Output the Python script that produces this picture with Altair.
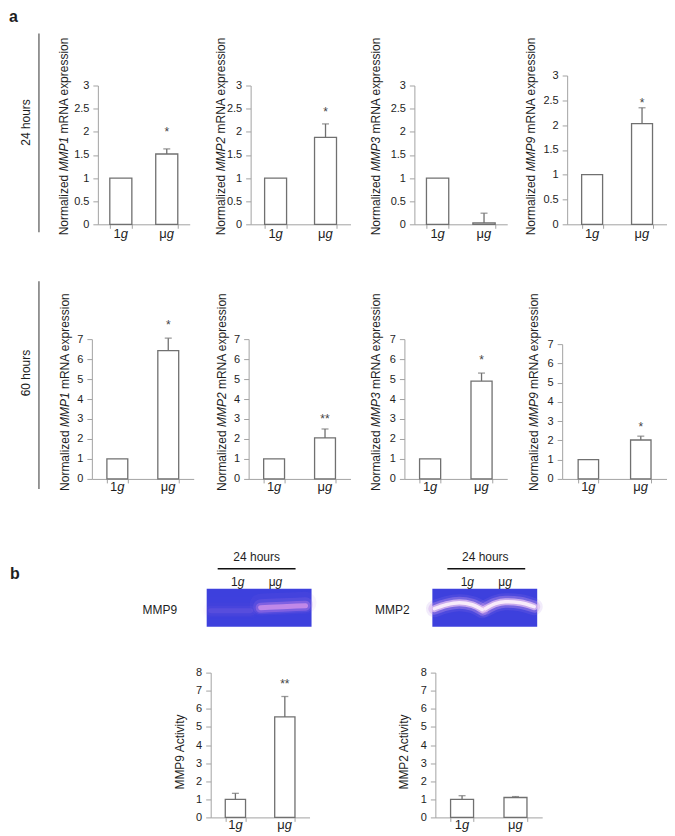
import altair as alt
import pandas as pd

FONT = "Liberation Sans"
TXT = "#1e1e1e"
AX = "#a3a3a3"
BARC = "#707070"
GEL_BLUE = "#3d40dd"

# ---------------- data ----------------
groups = ["1g", "μg"]
group_main = ["1", "μ"]
group_ital = ["g", "g"]

genes = ["MMP1", "MMP2", "MMP3", "MMP9"]

h24_mean = [[1, 1.52], [1, 1.88], [1, 0.03], [1, 2.03]]
h24_err_top = [[None, 1.63], [None, 2.17], [None, 0.24], [None, 2.35]]
h24_sig = ["*", "*", "", "*"]
h24_sig_y = [2.05, 2.5, 0, 2.5]
y24_ticks = [0, 0.5, 1, 1.5, 2, 2.5, 3]

h60_mean = [[1, 6.42], [1, 2.05], [1, 4.9], [1, 2.02]]
h60_err_top = [[None, 7.05], [None, 2.5], [None, 5.3], [None, 2.22]]
h60_sig = ["*", "**", "*", "*"]
h60_sig_y = [7.85, 3.15, 6.1, 2.85]
y60_ticks = [0, 1, 2, 3, 4, 5, 6, 7]

act_names = ["MMP9", "MMP2"]
act_mean = [[1.0, 5.55], [1.0, 1.1]]
act_err_top = [[1.33, 6.68], [1.2, 1.15]]
act_sig = ["**", ""]
act_sig_y = [7.55, 0]
yact_ticks = [0, 1, 2, 3, 4, 5, 6, 7, 8]

# zymography band profiles (gel pixel units)
gel9_lane = ["1g", "1g", "1g", "μg", "μg", "μg"]
gel9_x = [4, 24, 44, 54, 76, 99]
gel9_y = [22, 22, 22, 19, 18, 17]
gel9_intensity = {"1g": 0.12, "μg": 0.75}
gel9_label_x = [31, 69]

gel2_lane = ["1g"] * 5 + ["μg"] * 5
gel2_x = [2, 14, 27, 40, 50, 53, 63, 73, 88, 102]
gel2_y = [20, 16, 14, 16, 21, 20, 15, 13, 14, 18]
gel2_intensity = {"1g": 1.0, "μg": 1.0}
gel2_label_x = [35, 73]

one = pd.DataFrame({"k": [0]})


# ---------------- helpers ----------------
def txt(text, x, y, size=12, angle=0, align="center", baseline="middle",
        style="normal", weight="normal", color=TXT):
    return alt.Chart(one).mark_text(
        text=text, angle=angle, align=align, baseline=baseline, fontSize=size,
        font=FONT, fontStyle=style, fontWeight=weight, color=color,
    ).encode(x=alt.value(x), y=alt.value(y))


def hrule(x1, x2, y, color="#222", width=1.3):
    return alt.Chart(one).mark_rule(color=color, strokeWidth=width).encode(
        x=alt.value(x1), x2=alt.value(x2), y=alt.value(y))


def vrule(x, y1, y2, color="#444", width=1.1):
    return alt.Chart(one).mark_rule(color=color, strokeWidth=width).encode(
        x=alt.value(x), y=alt.value(y1), y2=alt.value(y2))


def spacer(w, h, layers=()):
    base = alt.Chart(one).mark_point(opacity=0, size=1).encode(
        x=alt.value(0), y=alt.value(0))
    return alt.layer(base, *layers).properties(width=w, height=h)


def anchor(top, bottom):
    # invisible (white) rule fixing the vertical extent of a row
    return vrule(0.5, top, bottom, color="#ffffff", width=1)


def gene_title(gene, dx, bottom, fs=12):
    o2 = (5.056 + 0.278) * fs
    o3 = o2 + (2.889 + 0.278) * fs
    return [
        txt("Normalized", dx, bottom, size=fs, angle=270, align="left"),
        txt(gene, dx, bottom - o2, size=fs, angle=270, align="left", style="italic"),
        txt("mRNA expression", dx, bottom - o3, size=fs, angle=270, align="left"),
    ]


def bar_panel(means, err_top, sig, sig_y, ymax, ticks, W, H, ytop, pin,
              title_layers, label_y):
    df = pd.DataFrame({"grp": groups, "main": group_main, "ital": group_ital,
                       "val": means})
    rows = [(g, m, e) for g, m, e in zip(groups, means, err_top) if e is not None]
    edf = pd.DataFrame(rows, columns=["grp", "val", "err"])
    xs = alt.Scale(domain=groups, range=[0, W], paddingInner=pin,
                   paddingOuter=pin / 2)
    ys = alt.Scale(domain=[0, ymax], range=[H, ytop], nice=False, zero=False)
    xax = alt.Axis(title=None, labels=False, grid=False, domainColor=AX,
                   tickColor=AX, tickSize=4, tickBand="extent", domainWidth=1,
                   tickWidth=1)
    yax = alt.Axis(title=None, values=ticks, format="~g", grid=False,
                   domainColor=AX, tickColor=AX, tickSize=5, labelFont=FONT,
                   labelFontSize=11, labelColor=TXT, labelPadding=4,
                   domainWidth=1, tickWidth=1)
    X = alt.X("grp:N", scale=xs, axis=xax, sort=groups)

    def Y(f):
        return alt.Y(f + ":Q", scale=ys, axis=yax)

    layers = [
        alt.Chart(df).mark_bar(fill="white", stroke=BARC, strokeWidth=1.3).encode(
            x=X, y=Y("val")),
        alt.Chart(edf).mark_rule(color=BARC, strokeWidth=1.3).encode(
            x=X, y=Y("val"), y2="err:Q"),
        alt.Chart(edf).mark_tick(color=BARC, thickness=1.3, size=7).encode(
            x=X, y=Y("err")),
        alt.Chart(df).mark_text(align="right", baseline="middle", fontSize=13,
                                font=FONT, color=TXT).encode(
            x=X, y=alt.value(label_y), text="main:N"),
        alt.Chart(df).mark_text(align="left", baseline="middle", fontSize=13,
                                font=FONT, color=TXT, fontStyle="italic").encode(
            x=X, y=alt.value(label_y), text="ital:N"),
    ]
    if sig:
        sdf = pd.DataFrame({"grp": ["μg"], "sig": [sig], "sy": [sig_y]})
        layers.append(alt.Chart(sdf).mark_text(
            fontSize=12, color="#444", baseline="middle", dy=3, font=FONT).encode(
            x=X, y=Y("sy"), text="sig:N"))
    layers += title_layers
    return alt.layer(*layers).properties(width=W, height=H)


def gel_panel(lane, xs_, ys_, intensity, label_x, name, name_dx, hdr_x,
              line_x1, line_x2, styles):
    GW, GH = 105, 38
    xs = alt.Scale(domain=[0, GW], range=[0, GW], nice=False, zero=False)
    ys = alt.Scale(domain=[0, GH], range=[0, GH], nice=False, zero=False)
    layers = []
    for w, f, c, dy in styles:
        bdf = pd.DataFrame({"lane": lane, "x": xs_, "y": [v + dy for v in ys_]})
        bdf["a"] = [intensity[l] * f for l in lane]
        layers.append(alt.Chart(bdf).mark_line(
            color=c, strokeWidth=w, interpolate="monotone", strokeCap="round",
            strokeJoin="round").encode(
            x=alt.X("x:Q", scale=xs, axis=None),
            y=alt.Y("y:Q", scale=ys, axis=None),
            detail="lane:N",
            opacity=alt.Opacity("a:Q", scale=None, legend=None)))
    ldf = pd.DataFrame({"lx": label_x, "main": group_main, "ital": group_ital})
    layers.append(alt.Chart(ldf).mark_text(align="right", baseline="middle",
                                           fontSize=12, font=FONT, color=TXT).encode(
        x=alt.X("lx:Q", scale=xs, axis=None), y=alt.value(-7), text="main:N"))
    layers.append(alt.Chart(ldf).mark_text(align="left", baseline="middle",
                                           fontSize=12, font=FONT, color=TXT,
                                           fontStyle="italic").encode(
        x=alt.X("lx:Q", scale=xs, axis=None), y=alt.value(-7), text="ital:N"))
    layers.append(txt("24 hours", hdr_x, -32, size=12))
    layers.append(hrule(line_x1, line_x2, -20, color="#111", width=1.4))
    layers.append(txt(name, name_dx, 21.5, size=12))
    return alt.layer(*layers).properties(
        width=GW, height=GH,
        view=alt.ViewBackground(fill=GEL_BLUE, stroke="transparent", strokeWidth=0))


def row(items):
    return alt.hconcat(*items, spacing=0, bounds="flush")


# ---------------- panel a, 24 hours ----------------
R1H = 149
r1_layout = [  # axis_x, width, ytop, pad, title_dx
    (89, 92, 10, 0.52, -34),
    (242, 100, 10, 0.56, -30),
    (406, 93, 10, 0.52, -38),
    (559, 100, 0, 0.58, -36),
]
row1_items = [spacer(89, R1H, [
    anchor(-65, 183),
    txt("a", 0, -54, size=16, align="left", baseline="alphabetic", weight="bold"),
    txt("24 hours", 17, 47, size=12, angle=270),
    vrule(30, -42, 157),
])]
prev_end = 89
for i, (ax_x, W, ytop, pin, tdx) in enumerate(r1_layout):
    if i > 0:
        row1_items.append(spacer(ax_x - prev_end, R1H))
    row1_items.append(bar_panel(
        h24_mean[i], h24_err_top[i], h24_sig[i], h24_sig_y[i], 3, y24_ticks,
        W, R1H, ytop, pin, gene_title(genes[i], tdx, 160), 159))
    prev_end = ax_x + W

# ---------------- panel a, 60 hours ----------------
R2H = 140
r2_layout = [
    (83, 102, 0, 0.59, -27),
    (240, 102, 0, 0.59, -27),
    (396, 103, 0, 0.59, -28),
    (554, 105, 5, 0.61, -28),
]
row2_items = [spacer(83, R2H, [
    anchor(-79, 185),
    txt("60 hours", 17, 34, size=12, angle=270),
    vrule(30, -58, 150),
])]
prev_end = 83
for i, (ax_x, W, ytop, pin, tdx) in enumerate(r2_layout):
    if i > 0:
        row2_items.append(spacer(ax_x - prev_end, R2H))
    row2_items.append(bar_panel(
        h60_mean[i], h60_err_top[i], h60_sig[i], h60_sig_y[i], 7, y60_ticks,
        W, R2H, ytop, pin, gene_title(genes[i], tdx, 152), 148))
    prev_end = ax_x + W

# ---------------- panel b, gels ----------------
GH = 38
styles9 = [(22, 0.10, "#a070e0", -3), (15, 0.22, "#b77ee6", -1),
           (10, 0.45, "#cf86e6", 0), (5, 0.85, "#e4a0ec", 0)]
styles2 = [(17, 0.15, "#a982e6", 0), (12, 0.35, "#c99ae8", 0),
           (7, 0.7, "#e9c6f2", 0), (3.5, 0.95, "#fbeefb", 0)]
gel_items = [
    spacer(198, GH, [
        anchor(-63, 57),
        txt("b", 1, -10, size=16, align="left", baseline="alphabetic", weight="bold"),
    ]),
    gel_panel(gel9_lane, gel9_x, gel9_y, gel9_intensity, gel9_label_x,
              "MMP9", -47, 50, 11, 89, styles9),
    spacer(121, GH),
    gel_panel(gel2_lane, gel2_x, gel2_y, gel2_intensity, gel2_label_x,
              "MMP2", -40, 53, 15, 93, styles2),
]

# ---------------- panel b, activity ----------------
BH = 145
b_layout = [(202, 99, 0.59), (427, 107, 0.57)]
b_items = []
prev_end = 0
for i, (ax_x, W, pin) in enumerate(b_layout):
    extra = [anchor(-25, 161)] if i == 0 else []
    b_items.append(spacer(ax_x - prev_end, BH, extra))
    b_items.append(bar_panel(
        act_mean[i], act_err_top[i], act_sig[i], act_sig_y[i], 8, yact_ticks,
        W, BH, 0, pin,
        [txt(act_names[i] + " Activity", -31, 79.5, size=12, angle=270)], 153))
    prev_end = ax_x + W

chart = alt.vconcat(
    row(row1_items), row(row2_items), row(gel_items), row(b_items),
    spacing=0, bounds="full",
).properties(padding=0).configure(font=FONT).configure_view(
    stroke="transparent", strokeWidth=0)

chart.save("out.html", embed_options={"renderer": "svg", "actions": False})
